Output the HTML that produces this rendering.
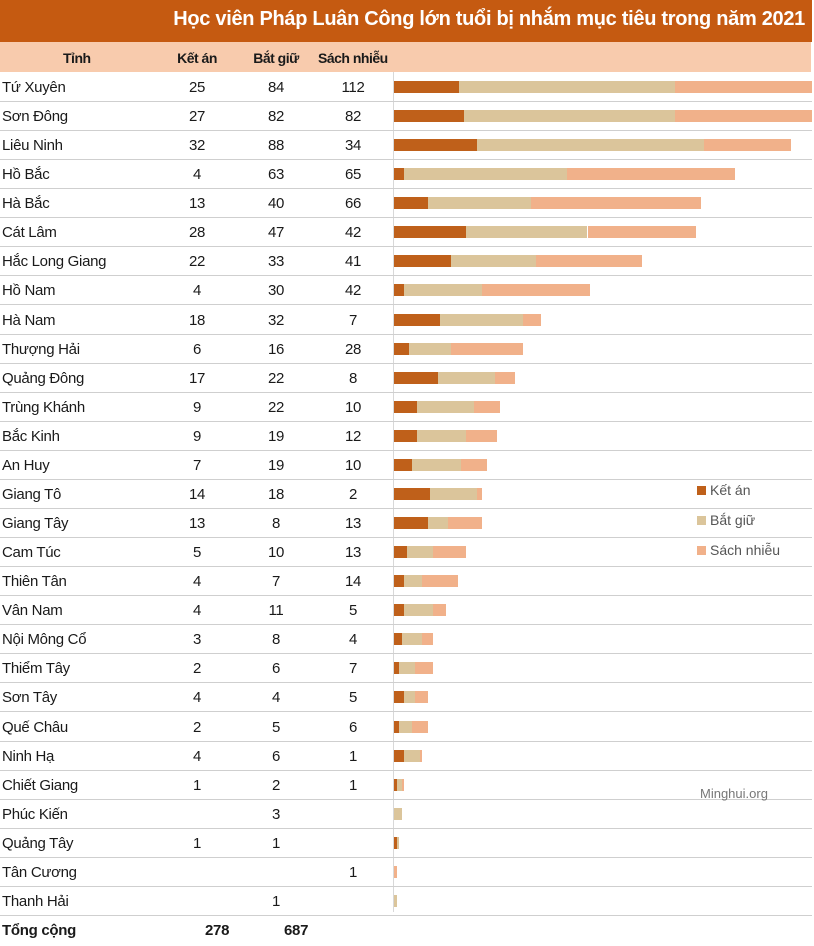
<!DOCTYPE html><html><head><meta charset="utf-8"><style>
body{margin:0;width:814px;height:946px;background:#fff;position:relative;overflow:hidden;font-family:"Liberation Sans",sans-serif;}
.a{position:absolute;white-space:nowrap}
.t{font-size:15px;color:#1a1a1a;letter-spacing:-0.3px}
.c{text-align:center;width:60px}
.ln{position:absolute;left:0;width:812px;height:1px;background:#cfcfcf}
.b{position:absolute;height:12px}
.k{background:#bf601a}.g{background:#dbc59b}.s{background:#f1b18a}
.hd{font-weight:bold;font-size:14px;letter-spacing:-0.5px}
</style></head><body>
<div class="a" style="left:0;top:0;width:812px;height:42px;background:#c55a11"></div>
<div class="a" style="right:9px;top:8px;color:#fff;font-weight:bold;font-size:20px;letter-spacing:-0.3px">Học viên Pháp Luân Công lớn tuổi bị nhắm mục tiêu trong năm 2021</div>
<div class="a" style="left:0;top:42px;width:811px;height:30px;background:#f8cbad"></div>
<div class="a t hd" style="left:63px;top:50px">Tỉnh</div>
<div class="a t c hd" style="left:167px;top:50px">Kết án</div>
<div class="a t c hd" style="left:246px;top:50px">Bắt giữ</div>
<div class="a t hd" style="left:318px;top:50px">Sách nhiễu</div>
<div class="a" style="left:393px;top:72px;width:1px;height:840px;background:#d8d8d8"></div>
<div id="rows"></div>
<div class="a t" style="left:2px;top:922px;font-weight:bold">Tổng cộng</div>
<div class="a t" style="left:205px;top:922px;font-weight:bold">278</div>
<div class="a t" style="left:284px;top:922px;font-weight:bold">687</div>
<div class="a" style="left:697px;top:486px;width:9px;height:9px;background:#bf601a"></div>
<div class="a" style="left:710px;top:482px;font-size:14px;color:#555">Kết án</div>
<div class="a" style="left:697px;top:516px;width:9px;height:9px;background:#dbc59b"></div>
<div class="a" style="left:710px;top:512px;font-size:14px;color:#555">Bắt giữ</div>
<div class="a" style="left:697px;top:546px;width:9px;height:9px;background:#f1b18a"></div>
<div class="a" style="left:710px;top:542px;font-size:14px;color:#555">Sách nhiễu</div>
<div class="a" style="left:700px;top:786px;font-size:13px;color:#777">Minghui.org</div>
<script>
var d=[["Tứ Xuyên",25,84,112],["Sơn Đông",27,82,82],["Liêu Ninh",32,88,34],["Hồ Bắc",4,63,65],["Hà Bắc",13,40,66],["Cát Lâm",28,47,42],["Hắc Long Giang",22,33,41],["Hồ Nam",4,30,42],["Hà Nam",18,32,7],["Thượng Hải",6,16,28],["Quảng Đông",17,22,8],["Trùng Khánh",9,22,10],["Bắc Kinh",9,19,12],["An Huy",7,19,10],["Giang Tô",14,18,2],["Giang Tây",13,8,13],["Cam Túc",5,10,13],["Thiên Tân",4,7,14],["Vân Nam",4,11,5],["Nội Mông Cổ",3,8,4],["Thiểm Tây",2,6,7],["Sơn Tây",4,4,5],["Quế Châu",2,5,6],["Ninh Hạ",4,6,1],["Chiết Giang",1,2,1],["Phúc Kiến",0,3,0],["Quảng Tây",1,1,0],["Tân Cương",0,0,1],["Thanh Hải",0,1,0]];
var h="",S=2.58,X=394;
d.forEach(function(r,i){var cy=88+i*29.07;
h+='<div class="ln" style="top:'+Math.round(cy+13)+'px"></div>';
h+='<div class="a t" style="left:2px;top:'+(cy-9)+'px">'+r[0]+'</div>';
[167,246,323].forEach(function(x,j){var v=r[j+1];if(v)h+='<div class="a t c" style="left:'+x+'px;top:'+(cy-9)+'px">'+v+'</div>';});
var x=X,by=cy-7;[["k",r[1]],["g",r[2]],["s",r[3]]].forEach(function(p){var w=p[1]*S;if(x+w>812)w=812-x;if(w>0)h+='<div class="b '+p[0]+'" style="left:'+x+'px;top:'+by+'px;width:'+w+'px"></div>';x+=w;});
});
document.getElementById("rows").innerHTML=h;
</script>
</body></html>
